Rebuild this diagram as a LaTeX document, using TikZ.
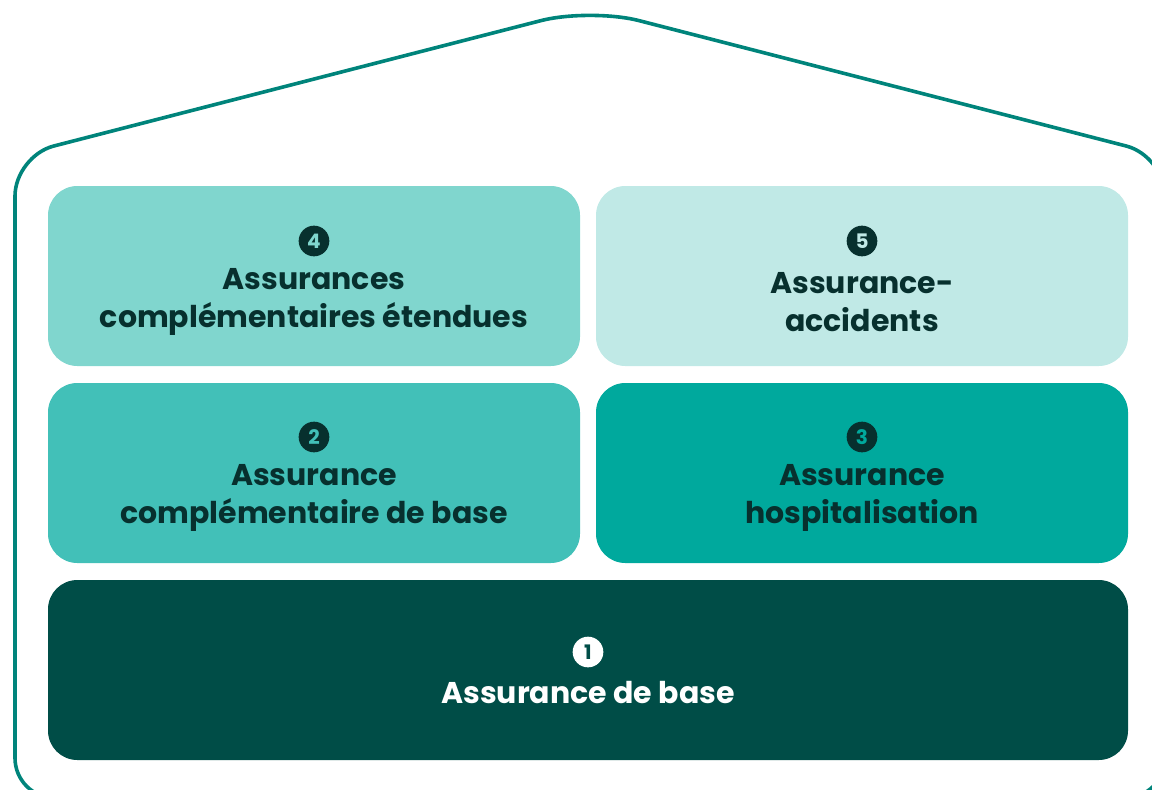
\documentclass[tikz,border=0pt]{standalone}
\usepackage{fontspec}
\setmainfont{Poppins}
\definecolor{roof}{HTML}{00847B}
\definecolor{ink}{HTML}{07302E}
\definecolor{cbase}{HTML}{004D47}
\definecolor{ccompl}{HTML}{42C0B8}
\definecolor{chosp}{HTML}{00A99D}
\definecolor{cext}{HTML}{80D6CE}
\definecolor{cacc}{HTML}{C0E9E6}
\tikzset{
	box/.style={draw=none, rounded corners=22pt, minimum width=399pt, minimum height=135pt, inner sep=0pt},
	boxtext/.style={draw=none, align=center, text=ink, font=\bfseries\fontsize{22.5}{28.5}\selectfont},
	numdot/.style={circle, fill=ink, inner sep=0pt, minimum size=23pt, font=\bfseries\fontsize{15}{15}\selectfont}
}
\begin{document}
\begin{tikzpicture}[x=0.75pt,y=-0.75pt]
\useasboundingbox (0,0) rectangle (1152,789);

% house outline
\draw[roof, line width=2.7pt, rounded corners=30pt]
	(590,798) -- (15,798) -- (15,156) [rounded corners=38pt] -- (590,8) [rounded corners=30pt] -- (1165,156) -- (1165,798) -- (590,798);

% boxes
\path (314,276) node[box, fill=cext] (b4) {};
\path (862,276) node[box, fill=cacc] (b5) {};
\path (314,473) node[box, fill=ccompl] (b2) {};
\path (862,473) node[box, fill=chosp] (b3) {};
\path (588,670) node[box, fill=cbase, minimum width=810pt] (b1) {};

% numbers
\path (314,241) node[numdot, text=cext] (n4) {4};
\path (862,241) node[numdot, text=cacc] (n5) {5};
\path (314,437) node[numdot, text=ccompl] (n2) {2};
\path (862,437) node[numdot, text=chosp] (n3) {3};
\path (588,652) node[numdot, fill=white, text=cbase] (n1) {1};

% texts
\path (314,302) node[boxtext] (t4) {Assurances\\complémentaires étendues};
\path (862,302) node[boxtext] (t5) {Assurance-\\accidents};
\path (314,498) node[boxtext] (t2) {Assurance\\complémentaire de base};
\path (862,498) node[boxtext] (t3) {Assurance\\hospitalisation};
\path (588,693) node[boxtext, text=white] (t1) {Assurance de base};

\end{tikzpicture}
\end{document}
